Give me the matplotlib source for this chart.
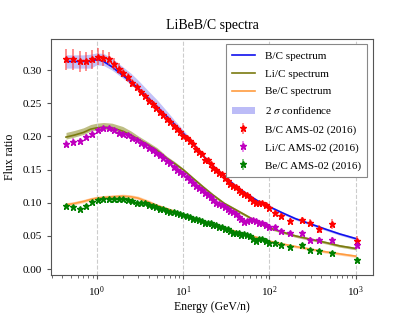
import matplotlib
matplotlib.use('Agg')
import matplotlib.pyplot as plt
import numpy as np

plt.rcParams.update({
    'font.family': 'serif',
    'font.serif': ['Liberation Serif', 'DejaVu Serif'],
    'mathtext.fontset': 'stix',
    'font.size': 8,
    'xtick.labelsize': 8,
    'ytick.labelsize': 8,
    'axes.linewidth': 0.8,
    'axes.edgecolor': '#555555',
})

# AMS-02 data points (kinetic energy per nucleon, GeV/n)
energy = [0.445, 0.535, 0.637, 0.754, 0.885, 1.03, 1.19, 1.37, 1.57, 1.79,
          2.03, 2.29, 2.58, 2.89, 3.23, 3.59, 3.99, 4.42, 4.88, 5.38,
          5.90, 6.47, 7.09, 7.76, 8.48, 9.25, 10.07, 10.97, 11.94, 12.96,
          14.05, 15.23, 16.48, 17.82, 19.27, 20.82, 22.46, 24.24, 26.14, 28.16,
          30.33, 32.67, 35.2, 37.9, 40.8, 43.9, 47.3, 51.0, 55.0, 59.3,
          64.0, 69.5, 75.8, 82.7, 90.7, 100, 116, 135, 173, 237,
          296, 376, 527, 1020]

bc_data = [0.316, 0.316, 0.313, 0.313, 0.316, 0.320, 0.318, 0.317, 0.309, 0.302,
           0.296, 0.289, 0.281, 0.275, 0.267, 0.261, 0.254, 0.249, 0.243, 0.237,
           0.232, 0.227, 0.222, 0.216, 0.211, 0.207, 0.201, 0.198, 0.193, 0.188,
           0.181, 0.176, 0.173, 0.165, 0.165, 0.158, 0.153, 0.149, 0.145, 0.143,
           0.138, 0.133, 0.129, 0.126, 0.124, 0.120, 0.116, 0.113, 0.112, 0.107,
           0.102, 0.099, 0.100, 0.099, 0.096, 0.092, 0.085, 0.080, 0.073, 0.074,
           0.070, 0.061, 0.068, 0.043]
bc_err = [0.016, 0.016, 0.016, 0.015, 0.014, 0.013, 0.012, 0.010, 0.009, 0.008,
          0.007, 0.007, 0.006, 0.006, 0.005, 0.005, 0.005, 0.004, 0.004, 0.004,
          0.004, 0.003, 0.003, 0.003, 0.003, 0.003, 0.003, 0.003, 0.003, 0.003,
          0.003, 0.003, 0.003, 0.003, 0.003, 0.003, 0.003, 0.003, 0.003, 0.003,
          0.003, 0.003, 0.003, 0.003, 0.003, 0.003, 0.003, 0.003, 0.003, 0.003,
          0.003, 0.003, 0.003, 0.003, 0.003, 0.003, 0.004, 0.004, 0.004, 0.005,
          0.005, 0.006, 0.008, 0.007]

lic_data = [0.189, 0.192, 0.193, 0.199, 0.204, 0.209, 0.212, 0.212, 0.209, 0.205,
            0.203, 0.202, 0.197, 0.194, 0.190, 0.187, 0.183, 0.179, 0.175, 0.172,
            0.168, 0.163, 0.160, 0.154, 0.150, 0.147, 0.143, 0.139, 0.134, 0.130,
            0.125, 0.122, 0.119, 0.115, 0.112, 0.108, 0.104, 0.100, 0.098, 0.096,
            0.094, 0.091, 0.088, 0.086, 0.083, 0.079, 0.075, 0.071, 0.073, 0.074,
            0.074, 0.072, 0.070, 0.069, 0.066, 0.063, 0.064, 0.058, 0.054, 0.054,
            0.044, 0.044, 0.044, 0.036]
lic_err = [0.005, 0.005, 0.005, 0.005, 0.005, 0.004, 0.004, 0.004, 0.004, 0.004,
           0.004, 0.003, 0.003, 0.003, 0.003, 0.003, 0.003, 0.003, 0.003, 0.003,
           0.003, 0.003, 0.003, 0.003, 0.003, 0.003, 0.003, 0.003, 0.003, 0.003,
           0.003, 0.003, 0.003, 0.003, 0.003, 0.003, 0.003, 0.003, 0.003, 0.003,
           0.003, 0.003, 0.003, 0.003, 0.003, 0.003, 0.003, 0.003, 0.003, 0.003,
           0.003, 0.003, 0.003, 0.003, 0.003, 0.003, 0.003, 0.003, 0.004, 0.004,
           0.004, 0.004, 0.005, 0.006]

bec_data = [0.095, 0.094, 0.090, 0.095, 0.101, 0.104, 0.106, 0.106, 0.106, 0.106,
            0.105, 0.104, 0.103, 0.100, 0.099, 0.099, 0.096, 0.095, 0.093, 0.091,
            0.090, 0.087, 0.086, 0.086, 0.084, 0.083, 0.081, 0.080, 0.078, 0.076,
            0.075, 0.074, 0.072, 0.070, 0.070, 0.069, 0.067, 0.066, 0.064, 0.063,
            0.061, 0.060, 0.058, 0.055, 0.054, 0.055, 0.052, 0.053, 0.051, 0.050,
            0.046, 0.043, 0.045, 0.046, 0.043, 0.039, 0.039, 0.037, 0.034, 0.036,
            0.029, 0.027, 0.024, 0.0136]
bec_err = [0.003] * 63 + [0.004]

# Model spectra with 2 sigma bands (distance below / above the line)
model_e = [0.44, 0.55, 0.7, 0.85, 1.0, 1.2, 1.5, 2.0, 2.5, 3.0, 4.0, 5.0, 6.5,
           8.0, 10, 13, 17, 22, 30, 40, 55, 75, 100, 140, 200, 300, 450, 650, 1000]
bc_model = [0.313, 0.313, 0.313, 0.313, 0.316, 0.313, 0.305, 0.292, 0.282, 0.273,
            0.257, 0.245, 0.230, 0.218, 0.205, 0.189, 0.171, 0.156, 0.140, 0.126,
            0.113, 0.102, 0.094, 0.085, 0.076, 0.068, 0.060, 0.053, 0.046]
bc_lo = [0.010, 0.010, 0.010, 0.010, 0.008, 0.006, 0.005, 0.004, 0.004, 0.004,
         0.004, 0.003, 0.003, 0.003, 0.003, 0.002, 0.002, 0.002, 0.002, 0.002,
         0.002, 0.002, 0.002, 0.002, 0.002, 0.002, 0.002, 0.002, 0.002]
bc_hi = [0.010, 0.010, 0.010, 0.011, 0.010, 0.012, 0.013, 0.013, 0.013, 0.012,
         0.011, 0.010, 0.008, 0.006, 0.005, 0.004, 0.003, 0.002, 0.002, 0.002,
         0.002, 0.002, 0.002, 0.002, 0.002, 0.002, 0.002, 0.002, 0.002]
lic_model = [0.199, 0.202, 0.206, 0.211, 0.213, 0.214, 0.213, 0.208, 0.202, 0.196,
             0.187, 0.179, 0.167, 0.159, 0.150, 0.137, 0.124, 0.112, 0.099, 0.090,
             0.080, 0.070, 0.062, 0.056, 0.050, 0.045, 0.040, 0.035, 0.031]
lic_lo = [0.003, 0.003, 0.003, 0.003, 0.003, 0.003, 0.003, 0.003, 0.003, 0.003,
          0.002, 0.002, 0.002, 0.002, 0.002, 0.002, 0.002, 0.002, 0.002, 0.002,
          0.002, 0.002, 0.002, 0.002, 0.002, 0.002, 0.002, 0.002, 0.002]
lic_hi = [0.007, 0.007, 0.007, 0.007, 0.007, 0.007, 0.007, 0.007, 0.006, 0.005,
          0.004, 0.004, 0.003, 0.003, 0.002, 0.002, 0.002, 0.002, 0.002, 0.002,
          0.002, 0.002, 0.002, 0.002, 0.002, 0.002, 0.002, 0.002, 0.002]
bec_model = [0.097, 0.099, 0.102, 0.105, 0.107, 0.108, 0.109, 0.110, 0.109, 0.107,
             0.101, 0.096, 0.091, 0.087, 0.082, 0.077, 0.072, 0.067, 0.062, 0.057,
             0.052, 0.047, 0.042, 0.038, 0.034, 0.030, 0.026, 0.023, 0.0195]
bec_lo = [0.002] * 29
bec_hi = [0.003, 0.003, 0.003, 0.003, 0.003, 0.003, 0.003, 0.003, 0.003, 0.003,
          0.003, 0.002, 0.002, 0.002, 0.002, 0.002, 0.002, 0.002, 0.002, 0.002,
          0.002, 0.002, 0.002, 0.002, 0.002, 0.002, 0.002, 0.002, 0.002]

fig = plt.figure(figsize=(4.13, 3.14), dpi=100)
ax = fig.add_axes([0.1235, 0.124, 0.7795, 0.752])

me = np.array(model_e)
for mod, lo, hi, col, bcol, balpha, lab in [
        (bc_model, bc_lo, bc_hi, '#1010ee', '#7a7af0', 0.45, 'B/C spectrum'),
        (lic_model, lic_lo, lic_hi, '#7a7a10', '#8a8a20', 0.55, 'Li/C spectrum'),
        (bec_model, bec_lo, bec_hi, '#ff9c40', '#ffa050', 0.45, 'Be/C spectrum')]:
    mod = np.array(mod)
    ax.fill_between(me, mod - np.array(lo), mod + np.array(hi), color=bcol,
                    alpha=balpha, lw=0)
    ax.plot(me, mod, color=col, lw=1.2, label=lab)

# proxy for the confidence band legend entry
ax.fill_between([], [], [], color='#7a7af0', alpha=0.5, lw=0, label=r'2 $\sigma$ confidence')

for vals, errs, col, ecol, lab in [
        (bc_data, bc_err, 'red', (1, 0.2, 0.2, 0.6), 'B/C AMS-02 (2016)'),
        (lic_data, lic_err, 'm', (0.85, 0.2, 0.85, 0.6), 'Li/C AMS-02 (2016)'),
        (bec_data, bec_err, 'green', (0.1, 0.6, 0.1, 0.6), 'Be/C AMS-02 (2016)')]:
    ax.errorbar(energy, vals, yerr=errs, fmt='*', color=col, ecolor=ecol,
                elinewidth=1.3, markersize=4.5, capsize=0, label=lab)

ax.set_xscale('log')
ax.set_xlim(0.295, 1580)
ax.set_ylim(-0.009, 0.347)
ax.set_yticks([0.0, 0.05, 0.10, 0.15, 0.20, 0.25, 0.30])
ax.yaxis.set_major_formatter(matplotlib.ticker.FormatStrFormatter('%.2f'))
ax.grid(axis='x', which='major', ls='--', color='#cccccc', lw=0.8)
ax.tick_params(which='both', color='#555555', length=3)
ax.tick_params(which='minor', length=1.8)

ax.set_title('LiBeB/C spectra', fontsize=10, pad=7)
ax.set_xlabel('Energy (GeV/n)', fontsize=8.5, labelpad=2)
ax.set_ylabel('Flux ratio', fontsize=8.5, labelpad=5)

leg = ax.legend(loc='upper right', fontsize=8, labelspacing=0.72,
                handlelength=2.0, handletextpad=0.9, borderpad=0.6,
                fancybox=False, edgecolor='#888888', framealpha=1)
leg.get_frame().set_linewidth(0.8)

fig.savefig('out.png', dpi=100)
